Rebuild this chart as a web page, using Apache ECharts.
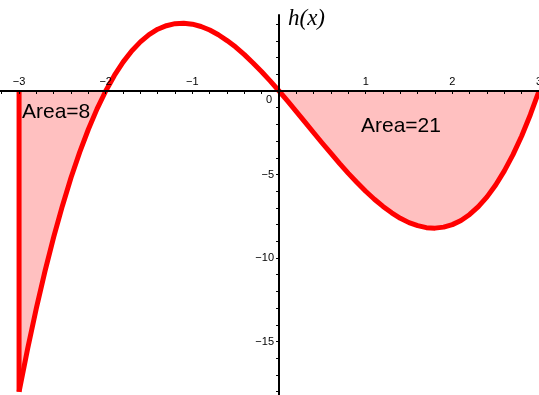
<!DOCTYPE html>
<html>
<head>
<meta charset="utf-8">
<script src="https://cdn.jsdelivr.net/npm/echarts@6/dist/echarts.min.js"></script>
<style>
  html, body { margin: 0; padding: 0; background: #fff; }
  #chart { width: 539px; height: 395px; }
</style>
</head>
<body>
<div id="chart"></div>
<script>
// Sampled values of h(x)
const xs = [-3.0, -2.9, -2.8, -2.7, -2.6, -2.5, -2.4, -2.3, -2.2, -2.1,
            -2.0, -1.9, -1.8, -1.7, -1.6, -1.5, -1.4, -1.3, -1.2, -1.1,
            -1.0, -0.9, -0.8, -0.7, -0.6, -0.5, -0.4, -0.3, -0.2, -0.1,
            0.0, 0.1, 0.2, 0.3, 0.4, 0.5, 0.6, 0.7, 0.8, 0.9,
            1.0, 1.1, 1.2, 1.3, 1.4, 1.5, 1.6, 1.7, 1.8, 1.9,
            2.0, 2.1, 2.2, 2.3, 2.4, 2.5, 2.6, 2.7, 2.8, 2.9, 3.0];
const hs = [-18.0, -15.40, -12.99, -10.77, -8.74, -6.88, -5.18, -3.66, -2.29, -1.07,
            0.0, 0.93, 1.73, 2.40, 2.94, 3.38, 3.70, 3.91, 4.03, 4.06,
            4.0, 3.86, 3.65, 3.37, 3.02, 2.63, 2.18, 1.68, 1.15, 0.59,
            0.0, -0.61, -1.23, -1.86, -2.50, -3.13, -3.74, -4.35, -4.93, -5.48,
            -6.0, -6.48, -6.91, -7.29, -7.62, -7.88, -8.06, -8.18, -8.21, -8.15,
            -8.0, -7.75, -7.39, -6.92, -6.34, -5.63, -4.78, -3.81, -2.69, -1.42, 0.0];

// Shaded intervals and their labels
const leftInterval = [-3, -2];
const rightInterval = [0, 3];
const areaLabels = ['Area=8', 'Area=21'];

// Axis ticks and labels
const xLabelValues = [-3, -2, -1, 1, 2, 3];
const xTickValues = [-3.2, -3.0, -2.8, -2.6, -2.4, -2.2, -2.0, -1.8, -1.6, -1.4, -1.2, -1.0,
                     -0.8, -0.6, -0.4, -0.2, 0.2, 0.4, 0.6, 0.8, 1.0,
                     1.2, 1.4, 1.6, 1.8, 2.0, 2.2, 2.4, 2.6, 2.8, 3.0];
const yLabelValues = [-15, -10, -5];
const yTickValues = [-18, -17, -16, -15, -14, -13, -12, -11, -10, -9, -8, -7, -6,
                     -5, -4, -3, -2, -1, 1, 2, 3, 4];

// Plot window
const W = 539, H = 395, TOP = 15;
const xMin = -3.22, xMax = 3.0, yMin = -18.2, yMax = 4.55;

const curve = xs.map((x, i) => [x, hs[i]]);
const inRange = (r) => curve.filter(p => p[0] >= r[0] - 1e-9 && p[0] <= r[1] + 1e-9);
const startPoint = curve[0];

const minus = (v) => String(v).replace('-', '\u2212');

// Axes cross at the origin: shift each axis from the grid edge to the zero line
const yAxisShift = W * (0 - xMin) / (xMax - xMin);
const xAxisShift = (H - TOP) * (0 - yMin) / (yMax - yMin);

const chart = echarts.init(document.getElementById('chart'), null, { renderer: 'canvas' });

const fillStyle = { color: '#ffc0c0', opacity: 1 };
const labelFont = { fontFamily: 'Liberation Sans, Arial, sans-serif', fontSize: 11, color: '#000' };

chart.setOption({
  animation: false,
  backgroundColor: '#fff',
  grid: { left: 0, right: 0, top: TOP, bottom: 0, containLabel: false, outerBoundsMode: 'none' },
  xAxis: {
    type: 'value',
    min: xMin, max: xMax,
    position: 'bottom',
    offset: -xAxisShift,
    z: 5,
    axisLine: { onZero: false, lineStyle: { color: '#000', width: 2 } },
    axisTick: { show: true, length: 3, customValues: xTickValues, lineStyle: { color: '#000', width: 1 } },
    axisLabel: Object.assign({ inside: true, margin: 4, customValues: xLabelValues, formatter: minus,
                               hideOverlap: false, showMinLabel: true, showMaxLabel: true }, labelFont),
    splitLine: { show: false }
  },
  yAxis: [{
    type: 'value',
    min: yMin, max: yMax,
    position: 'left',
    offset: -yAxisShift,
    z: 5,
    axisLine: { onZero: false, lineStyle: { color: '#000', width: 2 } },
    axisTick: { show: true, length: 3, customValues: yTickValues, lineStyle: { color: '#000', width: 1 } },
    axisLabel: Object.assign({ margin: 5, customValues: yLabelValues, formatter: minus, hideOverlap: false }, labelFont),
    splitLine: { show: false }
  }],
  graphic: [
    { type: 'text', left: 288, top: 7, z: 10,
      style: { text: 'h(x)', font: 'italic 23px "Liberation Serif", "Times New Roman", serif', fill: '#000' } },
    { type: 'text', left: 266, top: 94, z: 10,
      style: { text: '0', font: '11px "Liberation Sans", Arial, sans-serif', fill: '#000' } },
    { type: 'text', left: 22, top: 102, z: 10,
      style: { text: areaLabels[0], font: '21px "Liberation Sans", Arial, sans-serif', fill: '#000' } },
    { type: 'text', left: 361, top: 116, z: 10,
      style: { text: areaLabels[1], font: '21px "Liberation Sans", Arial, sans-serif', fill: '#000' } }
  ],
  series: [
    { type: 'line', data: inRange(leftInterval), symbol: 'none',
      lineStyle: { width: 0 }, areaStyle: fillStyle, z: 1 },
    { type: 'line', data: inRange(rightInterval), symbol: 'none',
      lineStyle: { width: 0 }, areaStyle: fillStyle, z: 1 },
    { type: 'line', data: [[startPoint[0], 0], startPoint], symbol: 'none',
      lineStyle: { color: '#ff0000', width: 5 }, z: 2 },
    { type: 'line', data: curve, symbol: 'none',
      lineStyle: { color: '#ff0000', width: 5, join: 'round' }, z: 3 }
  ]
});
</script>
</body>
</html>
